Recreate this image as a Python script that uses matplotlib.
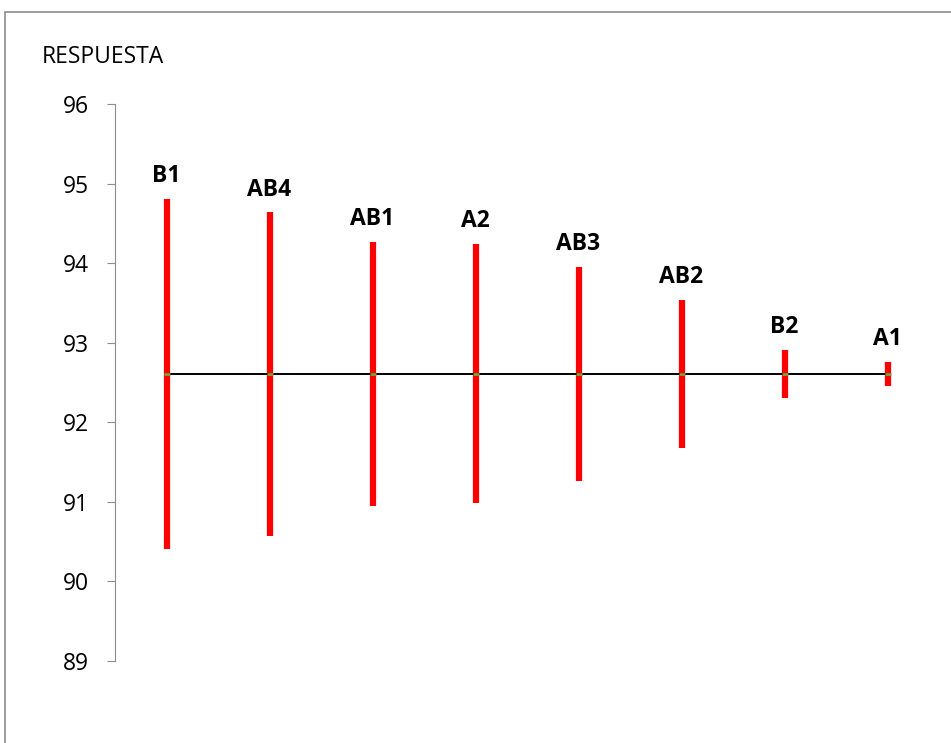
import matplotlib
matplotlib.use("Agg")
import matplotlib.pyplot as plt
from matplotlib.patches import Rectangle

labels = ["B1", "AB4", "AB1", "A2", "AB3", "AB2", "B2", "A1"]
upper = [94.81, 94.64, 94.27, 94.24, 93.95, 93.54, 92.91, 92.76]
lower = [90.41, 90.57, 90.95, 90.99, 91.26, 91.68, 92.31, 92.46]
center = [92.61] * 8
yticks = [89, 90, 91, 92, 93, 94, 95, 96]

plt.rcParams['font.family'] = ['Open Sans', 'DejaVu Sans']

fig = plt.figure(figsize=(9.51, 7.43), dpi=100)
fig.patches.append(Rectangle((5/951, -0.1), 1.2, 1 - 12/743 + 0.1, transform=fig.transFigure,
                             fill=False, edgecolor='#8c8c8c', linewidth=1.2))
ax = fig.add_axes([115/951, 1 - 661/743, 824/951, (661 - 104)/743])

x = list(range(len(labels)))
ax.vlines(x, lower, upper, colors='#ff0000', linewidth=4.5)
ax.plot(x, center, color='black', linewidth=1.4, marker='_', markersize=5,
        markeredgecolor='#7fa03c', markeredgewidth=2)
for xi, lab, up in zip(x, labels, upper):
    ax.annotate(lab, (xi, up), xytext=(0, 12), textcoords='offset points',
                ha='center', va='baseline', fontsize=16.5, fontweight='bold')

ax.set_xlim(-0.5, 7.5)
ax.set_ylim(89, 96)
ax.set_yticks(yticks)
ax.set_xticks([])
for s in ['top', 'right', 'bottom']:
    ax.spines[s].set_visible(False)
ax.spines['left'].set_color('#8c8c8c')
ax.tick_params(axis='y', length=6, color='#8c8c8c', pad=13, labelsize=16.5)
fig.text(42/951, 1 - 57/743, "RESPUESTA", fontsize=16.5, va='center', ha='left')

fig.savefig("out.png", dpi=100)
